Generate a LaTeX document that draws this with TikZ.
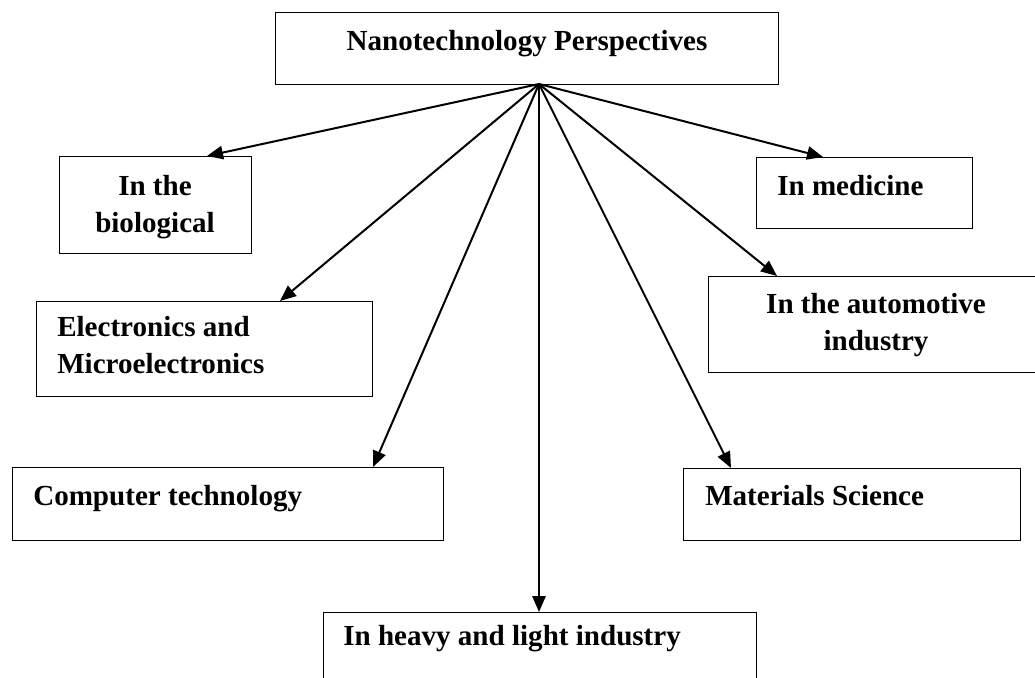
\documentclass[tikz,border=0pt]{standalone}
\usepackage{fontspec}
\setmainfont{Liberation Serif}
\usetikzlibrary{arrows.meta}
\begin{document}
\begin{tikzpicture}[x=0.75pt,y=-0.75pt,
  box/.style={draw,line width=1pt,rectangle,inner sep=0pt,anchor=north west},
  lbl/.style={font=\fontsize{21.8}{27.75}\selectfont\bfseries,inner sep=0pt,anchor=base west,align=left},
  clbl/.style={lbl,anchor=base,align=center},
  arr/.style={-{Triangle[length=12pt,width=10pt]},line width=1.5pt}]
\useasboundingbox (0,0) rectangle (1035,678);
% boxes
\node[box,minimum width=503*0.75pt,minimum height=72*0.75pt] (top) at (275,12) {};
\node[box,minimum width=192*0.75pt,minimum height=97*0.75pt] (bio) at (59,156) {};
\node[box,minimum width=216*0.75pt,minimum height=71*0.75pt] (med) at (756,157) {};
\node[box,minimum width=336*0.75pt,minimum height=95*0.75pt] (elec) at (36,301) {};
\node[box,minimum width=340*0.75pt,minimum height=96*0.75pt] (auto) at (708,276) {};
\node[box,minimum width=431*0.75pt,minimum height=73*0.75pt] (comp) at (12,467) {};
\node[box,minimum width=337*0.75pt,minimum height=72*0.75pt] (mat) at (683,468) {};
\node[box,minimum width=433*0.75pt,minimum height=90*0.75pt] (heavy) at (323,612) {};
% texts (base anchor = baseline of the last line)
\node[clbl] (ttop) at (527,50) {Nanotechnology Perspectives};
\node[clbl] (tbio) at (155,232) {In the\\biological};
\node[lbl] (tmed) at (777,195) {In medicine};
\node[lbl] (telec) at (57,373) {Electronics and\\Microelectronics};
\node[clbl] (tauto) at (876,350) {In the automotive\\industry};
\node[lbl] (tcomp) at (33,505) {Computer technology};
\node[lbl] (tmat) at (705,505) {Materials Science};
\node[lbl] (theavy) at (343,645) {In heavy and light industry};
% arrows
\coordinate (apex) at (539,84);
\draw[arr] (apex) -- ([xshift=148*0.75pt]bio.north west);
\draw[arr] (apex) -- ([xshift=67*0.75pt]med.north west);
\draw[arr] (apex) -- ([xshift=244*0.75pt]elec.north west);
\draw[arr] (apex) -- ([xshift=69*0.75pt]auto.north west);
\draw[arr] (apex) -- ([xshift=361*0.75pt]comp.north west);
\draw[arr] (apex) -- ([xshift=48*0.75pt]mat.north west);
\draw[arr] (apex) -- ([xshift=216*0.75pt]heavy.north west);
\end{tikzpicture}
\end{document}
